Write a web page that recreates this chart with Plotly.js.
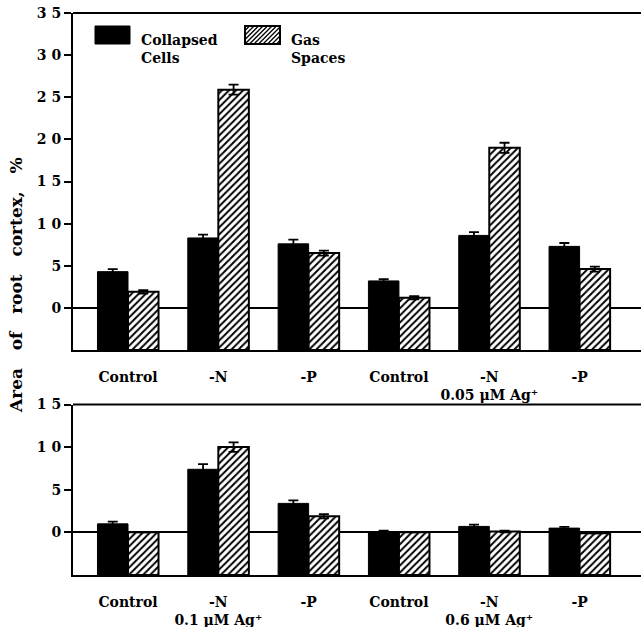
<!DOCTYPE html>
<html>
<head>
<meta charset="utf-8">
<script src="https://cdn.plot.ly/plotly-3.0.1.min.js"></script>
<style>html,body{margin:0;padding:0;overflow:hidden;background:#fff}</style>
</head>
<body>
<div id="chart" style="width:641px;height:627px"></div>
<script>
// ---- data ----
var topCategories = ["Control", "-N", "-P", "Control", "-N<br>0.05 μM Ag⁺", "-P"];
var topCollapsed = [4.3, 8.3, 7.6, 3.2, 8.6, 7.3];
var topCollapsedErr = [0.3, 0.4, 0.5, 0.2, 0.4, 0.4];
var topGas = [1.9, 25.9, 6.5, 1.2, 19.0, 4.6];
var topGasErr = [0.2, 0.6, 0.3, 0.2, 0.6, 0.3];

var bottomCategories = ["Control", "-N<br>0.1 μM Ag⁺", "-P", "Control", "-N<br>0.6 μM Ag⁺", "-P"];
var bottomCollapsed = [1.0, 7.4, 3.4, 0.1, 0.7, 0.5];
var bottomCollapsedErr = [0.25, 0.6, 0.35, 0.1, 0.2, 0.15];
var bottomGas = [0.0, 10.0, 1.9, 0.0, 0.1, -0.1];
var bottomGasErr = [0.0, 0.55, 0.25, 0.0, 0.1, 0.0];

var topTickVals = [0, 5, 10, 15, 20, 25, 30, 35];
var topTickText = ["0", "5", "1 0", "1 5", "2 0", "2 5", "3 0", "3 5"];
var bottomTickVals = [0, 5, 10, 15];
var bottomTickText = ["0", "5", "1 0", "1 5"];

var seriesNames = ["Collapsed<br>Cells", "Gas<br>Spaces"];
var yTitle = "Area   of   root   cortex,   %";

// ---- layout helpers ----
var W = 641, H = 627;
var floorVal = -5;
var barW = 0.338;
function px(x) { return x / W; }
function py(y) { return 1 - y / H; }
var FONT = "DejaVu Serif";

function barTraces(vals, errs, gvals, gerrs, xa, ya) {
  var idx = vals.map(function (_, i) { return i; });
  var xc = idx.map(function (i) { return i - barW / 2; });
  var xg = idx.map(function (i) { return i + barW / 2; });
  return [
    { type: "bar", x: xc, y: vals.map(function (v) { return v - floorVal; }), base: floorVal,
      width: barW, xaxis: xa, yaxis: ya, showlegend: false, hoverinfo: "skip",
      marker: { color: "#000", line: { color: "#000", width: 1 } } },
    { type: "bar", x: xg, y: gvals.map(function (v) { return v - floorVal; }), base: floorVal,
      width: barW, xaxis: xa, yaxis: ya, showlegend: false, hoverinfo: "skip",
      marker: { color: "#fff", line: { color: "#000", width: 2 },
        pattern: { shape: "/", fgcolor: "#000", bgcolor: "#fff", size: 5, solidity: 0.4 } } },
    { type: "scatter", mode: "markers", x: xc, y: vals, xaxis: xa, yaxis: ya, showlegend: false,
      hoverinfo: "skip", marker: { size: 1, color: "rgba(0,0,0,0)" },
      error_y: { type: "data", array: errs, visible: true, color: "#000", thickness: 1.8, width: 5 } },
    { type: "scatter", mode: "markers", x: xg, y: gvals, xaxis: xa, yaxis: ya, showlegend: false,
      hoverinfo: "skip", marker: { size: 1, color: "rgba(0,0,0,0)" },
      error_y: { type: "data", array: gerrs, visible: true, color: "#000", thickness: 1.8, width: 5 } }
  ];
}

var data = [].concat(
  barTraces(topCollapsed, topCollapsedErr, topGas, topGasErr, "x", "y"),
  barTraces(bottomCollapsed, bottomCollapsedErr, bottomGas, bottomGasErr, "x2", "y2")
);

var xRange = [-0.609, 5.68];
var xDomain = [px(73), 1];
var tickFont = { family: FONT, size: 14, color: "#000", weight: "bold" };

function xAxis(anchor, cats) {
  return {
    domain: xDomain, anchor: anchor, range: xRange, fixedrange: true,
    tickmode: "array", tickvals: cats.map(function (_, i) { return i; }), ticktext: cats,
    ticks: "", showgrid: false, zeroline: false, showline: true, linecolor: "#000", linewidth: 2,
    tickfont: tickFont, ticklabelstandoff: 13, automargin: false
  };
}
function yAxis(anchor, domain, range, tv, tt) {
  return {
    domain: domain, anchor: anchor, range: range, fixedrange: true,
    tickmode: "array", tickvals: tv, ticktext: tt,
    ticks: "outside", ticklen: 7, tickwidth: 2, tickcolor: "#000",
    showgrid: false, zeroline: true, zerolinecolor: "#000", zerolinewidth: 2,
    showline: true, linecolor: "#000", linewidth: 2, layer: "above traces",
    tickfont: { family: FONT, size: 14, color: "#000", weight: "bold" }, automargin: false
  };
}
function yInside(overlay, domain, range, tv) {
  return {
    domain: domain, overlaying: overlay, anchor: overlay === "y" ? "x" : "x2", range: range,
    tickmode: "array", tickvals: tv, ticks: "inside", ticklen: 7, tickwidth: 2, tickcolor: "#000",
    showticklabels: false, showgrid: false, zeroline: false, showline: false, fixedrange: true
  };
}

var topDomain = [py(350), py(13)];
var botDomain = [py(575), py(404.5)];
var topRange = [floorVal, 35];
var botRange = [floorVal, 15];

// legend swatches (shapes) and hatch path
function hatchPath(x0, y0, x1, y1, step) {
  var h = y1 - y0, d = "";
  for (var c = x0 - h; c < x1; c += step) {
    var sx = c, sy = y1, ex = c + h, ey = y0;
    if (sx < x0) { sy = y1 - (x0 - sx); sx = x0; }
    if (ex > x1) { ey = y0 + (ex - x1); ex = x1; }
    if (sx >= ex) continue;
    d += "M" + px(sx).toFixed(5) + "," + py(sy).toFixed(5) + "L" + px(ex).toFixed(5) + "," + py(ey).toFixed(5);
  }
  return d;
}

var shapes = [
  { type: "line", xref: "paper", yref: "paper", x0: px(73), x1: 1, y0: py(13), y1: py(13), line: { color: "#000", width: 2 } },
  { type: "line", xref: "paper", yref: "paper", x0: px(73), x1: 1, y0: py(404.5), y1: py(404.5), line: { color: "#000", width: 2 } },
  { type: "rect", xref: "paper", yref: "paper", x0: px(95), x1: px(130), y0: py(44), y1: py(26), fillcolor: "#000", line: { color: "#000", width: 1 } },
  { type: "path", xref: "paper", yref: "paper", path: hatchPath(245, 26, 280, 44, 4.5), line: { color: "#000", width: 1.3 } },
  { type: "rect", xref: "paper", yref: "paper", x0: px(245), x1: px(280), y0: py(44), y1: py(26), fillcolor: "rgba(0,0,0,0)", line: { color: "#000", width: 2 } }
];

var annFont = { family: FONT, size: 14, color: "#000", weight: "bold" };
var annotations = [
  { xref: "paper", yref: "paper", x: px(139), y: py(30), xanchor: "left", yanchor: "top", align: "left",
    text: seriesNames[0], showarrow: false, font: annFont },
  { xref: "paper", yref: "paper", x: px(289), y: py(30), xanchor: "left", yanchor: "top", align: "left",
    text: seriesNames[1], showarrow: false, font: annFont },
  { xref: "paper", yref: "paper", x: px(16), y: py(285), xanchor: "center", yanchor: "middle",
    textangle: -90, text: yTitle, showarrow: false, font: { family: FONT, size: 17, color: "#000", weight: "bold" } }
];

var layout = {
  width: W, height: H, margin: { l: 0, r: 0, t: 0, b: 0 },
  paper_bgcolor: "#fff", plot_bgcolor: "#fff", barmode: "overlay", showlegend: false,
  xaxis: xAxis("y", topCategories),
  yaxis: yAxis("x", topDomain, topRange, topTickVals, topTickText),
  xaxis2: xAxis("y2", bottomCategories),
  yaxis2: yAxis("x2", botDomain, botRange, bottomTickVals, bottomTickText),
  yaxis3: yInside("y", topDomain, topRange, topTickVals),
  yaxis4: yInside("y2", botDomain, botRange, bottomTickVals),
  shapes: shapes, annotations: annotations
};

Plotly.newPlot("chart", data, layout, { staticPlot: true, displayModeBar: false });
</script>
</body>
</html>
